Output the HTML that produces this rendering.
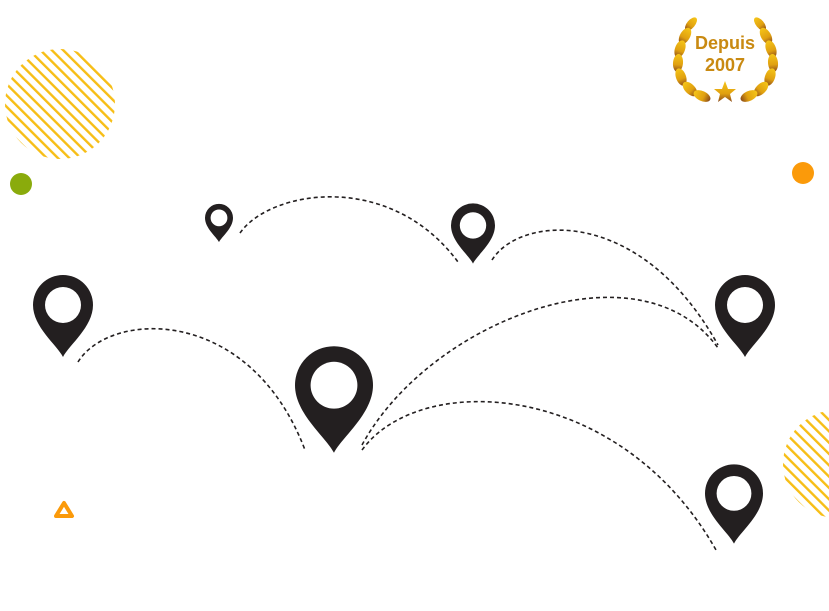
<!DOCTYPE html>
<html><head><meta charset="utf-8"><style>
html,body{margin:0;padding:0;background:#fff;width:829px;height:611px;overflow:hidden}
svg{display:block}
</style></head><body>
<svg width="829" height="611" viewBox="0 0 829 611" xmlns="http://www.w3.org/2000/svg">
<defs>
<pattern id="st" patternUnits="userSpaceOnUse" width="8" height="8" patternTransform="rotate(-45)">
<rect x="0" y="0" width="2.4" height="8" fill="#f7be16"/>
</pattern>
<symbol id="pin" viewBox="0 0 60 82">
<path d="M30 82 C24 70 0 52 0 30 A30 30 0 1 1 60 30 C60 52 36 70 30 82 Z" fill="#231f20"/>
<circle cx="30" cy="30" r="18" fill="#fff"/>
</symbol>
<linearGradient id="gold" x1="0" y1="0" x2="0" y2="1">
<stop offset="0" stop-color="#f5c518"/><stop offset="0.6" stop-color="#e0a010"/><stop offset="1" stop-color="#8a4a1a"/>
</linearGradient>
</defs>
<circle cx="60" cy="104" r="55" fill="url(#st)"/>
<circle cx="837" cy="464" r="54" fill="url(#st)"/>
<circle cx="21" cy="184" r="11" fill="#8aab0c"/>
<circle cx="803" cy="173" r="11" fill="#fb9a0a"/>
<path d="M64 503 L72 516 L56 516 Z" fill="none" stroke="#fb9a0a" stroke-width="4" stroke-linejoin="round"/>
<g fill="none" stroke="#231f20" stroke-width="1.6" stroke-dasharray="4 3">
<path d="M240 233 C270 190 390 170 458 262"/>
<path d="M492 260 C520 215 640 205 718 345"/>
<path d="M78 362 C110 310 250 305 305 450"/>
<path d="M362 445 C430 320 640 240 718 348"/>
<path d="M362 450 C420 370 620 380 716 550"/>
</g>
<use href="#pin" x="205" y="203" width="28" height="40"/>
<use href="#pin" x="451" y="203" width="44" height="61"/>
<use href="#pin" x="33" y="275" width="60" height="82"/>
<use href="#pin" x="295" y="346" width="78" height="107"/>
<use href="#pin" x="715" y="275" width="60" height="82"/>
<use href="#pin" x="705" y="463" width="58" height="82"/>
<g fill="url(#gold)">
<g id="lf">
<ellipse cx="691" cy="24" rx="4" ry="8" transform="rotate(40 691 24)"/>
<ellipse cx="685" cy="36" rx="5" ry="9" transform="rotate(30 685 36)"/>
<ellipse cx="680" cy="49" rx="5" ry="9" transform="rotate(20 680 49)"/>
<ellipse cx="678" cy="63" rx="5" ry="9" transform="rotate(5 678 63)"/>
<ellipse cx="681" cy="77" rx="5" ry="9" transform="rotate(-20 681 77)"/>
<ellipse cx="690" cy="89" rx="5" ry="9" transform="rotate(-45 690 89)"/>
<ellipse cx="702" cy="96" rx="5" ry="9" transform="rotate(-65 702 96)"/>
</g>
<use href="#lf" transform="translate(1451 0) scale(-1 1)"/>
<path d="M725 81 L728 89 L736 89 L730 94 L732 102 L725 97 L718 102 L720 94 L714 89 L722 89 Z"/>
</g>
<text x="725" y="49" font-family="Liberation Sans, sans-serif" font-weight="bold" font-size="18" fill="#c98a12" text-anchor="middle">Depuis</text>
<text x="725" y="71" font-family="Liberation Sans, sans-serif" font-weight="bold" font-size="18" fill="#c98a12" text-anchor="middle">2007</text>
</svg>
</body></html>
